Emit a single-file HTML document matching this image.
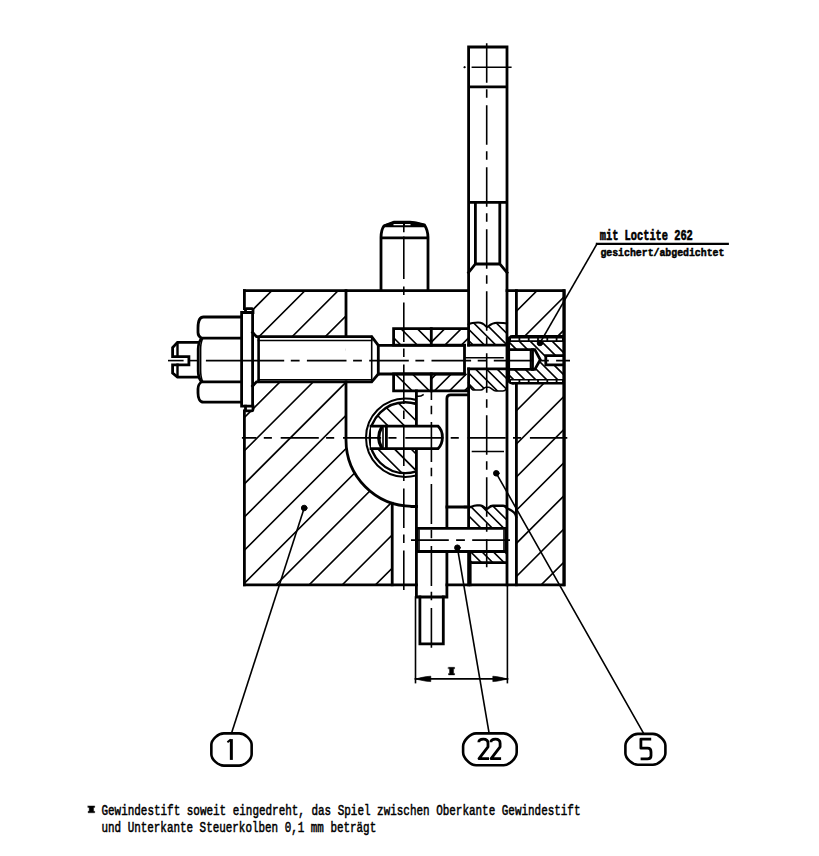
<!DOCTYPE html><html><head><meta charset="utf-8"><style>html,body{margin:0;padding:0;background:#fff;width:819px;height:856px;overflow:hidden}svg{display:block}</style></head><body><svg width="819" height="856" viewBox="0 0 819 856" stroke="#000" stroke-linecap="square"><defs><clipPath id="c1"><path d="M244.4,290.6H346V440A66.3,66.3 0 0 0 392.2,503.27V584.8H244.4ZM244.4,306H254V412H244.4ZM254,336.4H345.9V381.8H254Z" clip-rule="evenodd"/></clipPath><clipPath id="c2"><path d="M516.4,290.6H564.3V584.8H516.4ZM516.4,336.4H564.3V383.2H516.4Z" clip-rule="evenodd"/></clipPath><clipPath id="c3"><path d="M393.6,328.7H431.3V345.1H393.6Z" clip-rule="nonzero"/></clipPath><clipPath id="c4"><path d="M393.6,373.8H431.3V390.9H393.6Z" clip-rule="nonzero"/></clipPath><clipPath id="c5"><path d="M431.3,328.7H468.5V345.1H431.3Z" clip-rule="nonzero"/></clipPath><clipPath id="c6"><path d="M431.3,373.8H468.5V390.9H431.3Z" clip-rule="nonzero"/></clipPath><clipPath id="c7"><path d="M405.2,402.3A35.4,35.4 0 0 0 405.2,473.1L415,473.1V402.3ZM369,426.1H415V448.6H369Z" clip-rule="evenodd"/></clipPath><clipPath id="c8"><path d="M468.6,324.3C471,323 474,322.6 478,322.6C482,322.6 484,324 486,326.5L487.5,327C490,325 492,322.8 497,322.8C502,322.8 505,323 507,323.5V345.2H468.6Z" clip-rule="nonzero"/></clipPath><clipPath id="c9"><path d="M468.6,368.9H507V388.5C506,389.5 505,391 503,391H496C493,390.8 491,387.5 489,387.3H486C484,387.5 483,390 481,390H473C471,389 470,386 468.6,383Z" clip-rule="nonzero"/></clipPath><clipPath id="c10"><path d="M468.6,507H471C473,506 474,505.4 477,505.4H480C482,505.4 484,507 486,508.6H487.5C489,507.5 490,505.8 493,505.8H503C505,505.8 506.5,507 507,508.5V528.4H468.6ZM469.8,551.5H506V562.6H469.8Z" clip-rule="nonzero"/></clipPath><clipPath id="c11"><path d="M508.7,341.3H563.2V379.5H508.7ZM508.7,349.7H534.8L540.3,359.8L534.8,369.4H508.7ZM545.8,355.7H563.2V364.8H545.8Z" clip-rule="evenodd"/></clipPath></defs><path stroke-linecap="butt" clip-path="url(#c1)" d="M-93.80,590.00L211.20,285.00M-60.65,590.00L244.35,285.00M-27.50,590.00L277.50,285.00M5.65,590.00L310.65,285.00M38.80,590.00L343.80,285.00M71.95,590.00L376.95,285.00M105.10,590.00L410.10,285.00M138.25,590.00L443.25,285.00M171.40,590.00L476.40,285.00M204.55,590.00L509.55,285.00M237.70,590.00L542.70,285.00M270.85,590.00L575.85,285.00M304.00,590.00L609.00,285.00M337.15,590.00L642.15,285.00M370.30,590.00L675.30,285.00" stroke-width="1.6" fill="none"/><path stroke-linecap="butt" clip-path="url(#c2)" d="M171.40,590.00L476.40,285.00M204.55,590.00L509.55,285.00M237.70,590.00L542.70,285.00M270.85,590.00L575.85,285.00M304.00,590.00L609.00,285.00M337.15,590.00L642.15,285.00M370.30,590.00L675.30,285.00M403.45,590.00L708.45,285.00M436.60,590.00L741.60,285.00M469.75,590.00L774.75,285.00M502.90,590.00L807.90,285.00M536.05,590.00L841.05,285.00M569.20,590.00L874.20,285.00" stroke-width="1.6" fill="none"/><path stroke-linecap="butt" clip-path="url(#c3)" d="M364.40,325.00L387.40,348.00M380.80,325.00L403.80,348.00M397.20,325.00L420.20,348.00M413.60,325.00L436.60,348.00M430.00,325.00L453.00,348.00" stroke-width="1.6" fill="none"/><path stroke-linecap="butt" clip-path="url(#c4)" d="M356.90,370.00L381.90,395.00M374.10,370.00L399.10,395.00M391.30,370.00L416.30,395.00M408.50,370.00L433.50,395.00M425.70,370.00L450.70,395.00" stroke-width="1.6" fill="none"/><path stroke-linecap="butt" clip-path="url(#c5)" d="M392.50,348.00L415.50,325.00M409.00,348.00L432.00,325.00M425.50,348.00L448.50,325.00M442.00,348.00L465.00,325.00M458.50,348.00L481.50,325.00" stroke-width="1.6" fill="none"/><path stroke-linecap="butt" clip-path="url(#c6)" d="M400.30,395.00L425.30,370.00M415.30,395.00L440.30,370.00M430.30,395.00L455.30,370.00M445.30,395.00L470.30,370.00M460.30,395.00L485.30,370.00" stroke-width="1.6" fill="none"/><path stroke-linecap="butt" clip-path="url(#c7)" d="M277.10,398.00L355.10,476.00M293.70,398.00L371.70,476.00M310.30,398.00L388.30,476.00M326.90,398.00L404.90,476.00M343.50,398.00L421.50,476.00M360.10,398.00L438.10,476.00M376.70,398.00L454.70,476.00M393.30,398.00L471.30,476.00M409.90,398.00L487.90,476.00" stroke-width="1.6" fill="none"/><path stroke-linecap="butt" clip-path="url(#c8)" d="M436.80,320.00L463.80,347.00M448.10,320.00L475.10,347.00M459.40,320.00L486.40,347.00M470.70,320.00L497.70,347.00M482.00,320.00L509.00,347.00M493.30,320.00L520.30,347.00M504.60,320.00L531.60,347.00" stroke-width="1.6" fill="none"/><path stroke-linecap="butt" clip-path="url(#c9)" d="M430.30,367.00L456.30,393.00M441.10,367.00L467.10,393.00M451.90,367.00L477.90,393.00M462.70,367.00L488.70,393.00M473.50,367.00L499.50,393.00M484.30,367.00L510.30,393.00M495.10,367.00L521.10,393.00M505.90,367.00L531.90,393.00" stroke-width="1.6" fill="none"/><path stroke-linecap="butt" clip-path="url(#c10)" d="M396.10,500.00L462.10,566.00M407.45,500.00L473.45,566.00M418.80,500.00L484.80,566.00M430.15,500.00L496.15,566.00M441.50,500.00L507.50,566.00M452.85,500.00L518.85,566.00M464.20,500.00L530.20,566.00M475.55,500.00L541.55,566.00M486.90,500.00L552.90,566.00M498.25,500.00L564.25,566.00M509.60,500.00L575.60,566.00" stroke-width="1.6" fill="none"/><path stroke-linecap="butt" clip-path="url(#c11)" d="M448.00,336.00L496.00,384.00M459.00,336.00L507.00,384.00M470.00,336.00L518.00,384.00M481.00,336.00L529.00,384.00M492.00,336.00L540.00,384.00M503.00,336.00L551.00,384.00M514.00,336.00L562.00,384.00M525.00,336.00L573.00,384.00M536.00,336.00L584.00,384.00M547.00,336.00L595.00,384.00M558.00,336.00L606.00,384.00" stroke-width="1.6" fill="none"/><path d="M244.4,290.6H468.6M507,290.6H564.3V584.8H446.9M416.4,584.8H244.4" stroke-width="2.8" fill="none" /><line x1="244.40" y1="290.60" x2="244.40" y2="308.60" stroke-width="2.8" /><line x1="244.40" y1="410.80" x2="244.40" y2="584.80" stroke-width="2.8" /><path d="M346,290.6V336.4M346,381.8V440A66.3,66.3 0 0 0 412,506.3H416.4" stroke-width="2.8" fill="none" /><line x1="392.20" y1="503.27" x2="392.20" y2="584.80" stroke-width="2.8" /><line x1="516.40" y1="290.60" x2="516.40" y2="336.40" stroke-width="2.8" /><line x1="516.40" y1="383.20" x2="516.40" y2="584.80" stroke-width="2.8" /><path d="M468.6,47V345.2M468.6,368.9V584.8M507,47V584.8M468.6,47H507M468.6,86.8H507M468.6,202.4H507" stroke-width="2.8" fill="none" /><path d="M475.4,202.4V264H499.8V202.4M475.4,264L468.6,272.5M499.8,264L507,272.5" stroke-width="2.8" fill="none" /><line x1="472.40" y1="67.20" x2="510.80" y2="67.20" stroke-width="1.6" /><circle cx="464.4" cy="67.2" r="0.6"/><path d="M381,290.6V237.8C381,232 382,228.5 384,225.8L391.5,223L394,222.2H410L416,223L424.5,225C426.5,228 428,232 428,237.8V290.6M381,237.8H428" stroke-width="2.8" fill="none" /><path d="M383.5,227.2L384.2,224.6L391.5,222.3L394,221H410L416,222L425,224L425.8,227.2Z" stroke="none" fill="#000"/><path d="M393.5,224.6H403M405,224.6H410.5" stroke="#fff" stroke-width="1.3" stroke-linecap="butt" fill="none"/><path d="M198,342.3H177.5L172.6,347.6V356.6H188.9V364.8H172.6V373L177.5,377.1H198" stroke-width="2.8" fill="none" /><path d="M177.5,343.5V356.6M177.5,364.8V376" stroke-width="2.4" fill="none" /><path d="M241.6,317H203.5C199.8,317 198,322 198,328V332.5C198,335.5 199.5,337 201.5,338.2H241.6M201.5,338.2C199.2,341 198.2,345 198.2,349V371C198.2,375 199.2,379 201.5,381.8H241.6M201.5,381.8C199.5,383 198,385.5 198,389V393C198,398 199.8,402.2 203.5,402.2H241.6" stroke-width="2.8" fill="none" /><path d="M202.5,339C201,342 200.6,346 200.6,350V370C200.6,374 201,378 202.5,381" stroke-width="1.6" fill="none" /><path d="M241.6,312.5H252.6V406.2H241.6Z" stroke-width="2.8" fill="none" /><path d="M245.5,312.5V309.2Q245.5,308.6 246.5,308.6H252Q253,308.6 253,309.5V312.5M245.5,406.2V409.8Q245.5,410.8 246.5,410.8H252Q253,410.8 253,409.8V406.2" stroke-width="2.8" fill="none" /><path d="M252.6,332.5L256.5,336.6H371.7L378.3,345.4H464.5V374H378.3L371.7,381.8H256.5L252.6,386" stroke-width="2.8" fill="none" /><path d="M258.4,340.5H371.7M258.4,379.8H371.7" stroke-width="1.6" fill="none" /><line x1="258.60" y1="337.50" x2="258.60" y2="381.00" stroke-width="2.6" /><line x1="371.70" y1="336.40" x2="371.70" y2="381.80" stroke-width="1.6" /><line x1="378.30" y1="345.40" x2="378.30" y2="374.00" stroke-width="2.8" /><line x1="168.80" y1="360.60" x2="182.80" y2="360.60" stroke-width="1.6" /><line x1="189.50" y1="360.60" x2="198.00" y2="360.60" stroke-width="1.6" /><path d="M393.6,328.7H468.6M393.6,328.7V345.1M393.6,373.8V390.9H468.6M393.6,345.1H464.5M393.6,373.8H464.5" stroke-width="2.8" fill="none" /><path d="M431.3,328.7V345.1M431.3,373.8V390.9" stroke-width="2.8" fill="none" /><path d="M468.6,324.3C471,323 474,322.6 478,322.6C482,322.6 484,324 486,326.5L487.5,327C490,325 492,322.8 497,322.8C502,322.8 505,323 507,323.5" stroke-width="2.0" fill="none" /><path d="M468.6,383C470,386 471,389 473,390H481C483,390 484,387.5 486,387.3H489C491,387.5 493,390.8 496,391H503C505,391 506,389.5 507,388.5" stroke-width="1.6" fill="none" /><path d="M468.6,345.2H507M468.6,368.9H507" stroke-width="2.8" fill="none" /><line x1="466.00" y1="357.80" x2="503.00" y2="357.80" stroke-width="1.6" /><path d="M513,336.4H563.2M508.7,341V379M513,383.2H563.2" stroke-width="2.8" fill="none" /><path d="M508.7,341Q508.7,336.4 513,336.4M508.7,379Q508.7,383.2 513,383.2" stroke-width="2.8" fill="none" /><rect x="510" y="335.4" width="53.5" height="6.6" stroke="none" fill="#000"/><rect x="510" y="379" width="53.5" height="5" stroke="none" fill="#000"/><line x1="511.00" y1="339.30" x2="562.00" y2="339.30" stroke-width="1.7" stroke="#fff" stroke-linecap="butt" stroke-dasharray="7.5,1.8"/><line x1="511.00" y1="381.30" x2="562.00" y2="381.30" stroke-width="1.5" stroke="#fff" stroke-linecap="butt" stroke-dasharray="7.5,1.8"/><path d="M508.7,349.7H534.8L540.3,359.8L534.8,369.4H508.7" stroke-width="2.8" fill="none" /><line x1="532.50" y1="349.70" x2="532.50" y2="369.40" stroke-width="2.8" /><line x1="530.50" y1="350.00" x2="530.50" y2="369.00" stroke-width="1.6" /><path d="M545.8,355.7H563.2M545.8,355.7V364.8H563.2" stroke-width="2.8" fill="none" /><line x1="563.80" y1="290.60" x2="563.80" y2="584.80" stroke-width="2.8" /><path d="M417.5,396.2Q420.5,396.6 423,394.8" stroke-width="1.6" fill="none" /><path d="M416.4,390.9V597H446.9V398.6Q446.9,394.9 450.6,394.9H468.6" stroke-width="2.8" fill="none" /><path d="M419.9,597V643.8H443.3V597" stroke-width="2.8" fill="none" /><clipPath id="cc"><rect x="300" y="380" width="115.5" height="110"/></clipPath><g clip-path="url(#cc)"><circle cx="405.2" cy="437.7" r="35.4" fill="none" stroke-width="2.4"/><circle cx="405.2" cy="437.7" r="39.2" fill="none" stroke-width="2.0"/></g><path d="M371,426.1H438Q442.4,430 442.4,437.3Q442.4,444.6 438,448.6H371" stroke-width="2.8" fill="#fff" /><path d="M381.5,427.5Q376,437.5 381.5,447.5" stroke-width="3.2" fill="none" /><line x1="386.40" y1="426.10" x2="386.40" y2="448.60" stroke-width="2.8" /><line x1="383.00" y1="428.00" x2="383.00" y2="447.00" stroke-width="1.6" /><path d="M412,506.7H416.4M446.9,507H466" stroke-width="2.8" fill="none" /><path d="M465,507H471C473,506 474,505.4 477,505.4H480C482,505.4 484,507 486,508.6H487.5C489,507.5 490,505.8 493,505.8H503C505,505.8 506.5,507 507.5,508.6C510,509.5 512,510.5 514,512.5C515.5,514 516,515 516.2,517" stroke-width="2.4" fill="none" /><path d="M416.8,528.4H506.2V551.5H416.8Z" stroke-width="2.8" fill="#fff" /><line x1="419.00" y1="530.00" x2="419.00" y2="550.00" stroke-width="1.6" /><line x1="504.00" y1="530.00" x2="504.00" y2="550.00" stroke-width="1.6" /><path d="M469.8,551.5V560C469.8,562 470.5,562.6 472.5,562.6H506" stroke-width="2.8" fill="none" /><line x1="470.20" y1="562.60" x2="470.20" y2="584.80" stroke-width="2.8" /><line x1="472.50" y1="451.50" x2="503.20" y2="451.50" stroke-width="1.6" /><line x1="415.50" y1="597.00" x2="415.50" y2="682.60" stroke-width="1.6" /><line x1="507.40" y1="584.80" x2="507.40" y2="682.60" stroke-width="1.6" /><line x1="415.50" y1="678.90" x2="507.40" y2="678.90" stroke-width="1.9" /><path d="M416,678.9L421,677.6L426.5,676.6L430.8,676.2V681.6L426.5,681.3L421,680.2Z" stroke-width="0.6" fill="#000" /><path d="M507,678.9L502,677.6L496.5,676.6L492.8,676.2V681.6L496.5,681.3L502,680.2Z" stroke-width="0.6" fill="#000" /><line x1="304.20" y1="508.00" x2="231.50" y2="733.30" stroke-width="1.6" /><circle cx="304.2" cy="508" r="2.8"/><line x1="457.40" y1="547.70" x2="489.00" y2="732.70" stroke-width="1.6" /><circle cx="457.4" cy="547.7" r="2.8"/><line x1="496.30" y1="473.30" x2="643.20" y2="732.70" stroke-width="1.6" /><circle cx="496.3" cy="473.3" r="2.8"/><line x1="540.00" y1="343.00" x2="597.00" y2="243.90" stroke-width="1.6" /><circle cx="540" cy="343" r="2.8"/><line x1="597.00" y1="243.90" x2="727.70" y2="243.90" stroke-width="2.4" /><path d="M223.85,733.35H239.15C244.775,733.35 251.65,739.6750000000001 251.65,744.85V754.15C251.65,759.3249999999999 244.775,765.65 239.15,765.65H223.85C218.225,765.65 211.35,759.3249999999999 211.35,754.15V744.85C211.35,739.6750000000001 218.225,733.35 223.85,733.35Z" stroke-width="2.6" fill="none" /><path d="M476.1,733.4H503.70000000000005C509.55000000000007,733.4 516.7,740.55 516.7,746.4V752.2C516.7,758.0500000000001 509.55000000000007,765.2 503.70000000000005,765.2H476.1C470.25,765.2 463.1,758.0500000000001 463.1,752.2V746.4C463.1,740.55 470.25,733.4 476.1,733.4Z" stroke-width="2.6" fill="none" /><path d="M637.9,733.9H652.9C658.525,733.9 665.4,740.225 665.4,745.4V753.2C665.4,758.375 658.525,764.7 652.9,764.7H637.9C632.275,764.7 625.4,758.375 625.4,753.2V745.4C625.4,740.225 632.275,733.9 637.9,733.9Z" stroke-width="2.6" fill="none" /><line stroke-linecap="butt" x1="486.70" y1="43.20" x2="486.70" y2="567.30" stroke-width="1.6" stroke-dasharray="39.5,6.5,8.6,7.4"/><line stroke-linecap="butt" x1="403.80" y1="226.00" x2="403.80" y2="232.30" stroke-width="1.6" /><line stroke-linecap="butt" x1="403.80" y1="236.50" x2="403.80" y2="279.00" stroke-width="1.6" /><line stroke-linecap="butt" x1="403.80" y1="286.40" x2="403.80" y2="589.90" stroke-width="1.6" stroke-dasharray="39.5,6.5,8.6,7.4" stroke-dashoffset="46"/><line stroke-linecap="butt" x1="205.90" y1="360.60" x2="284.20" y2="360.60" stroke-width="1.6" /><line stroke-linecap="butt" x1="290.80" y1="360.60" x2="570.00" y2="360.60" stroke-width="1.6" stroke-dasharray="8.8,7.3,39.6,6.6"/><line stroke-linecap="butt" x1="431.40" y1="390.90" x2="431.40" y2="647.80" stroke-width="1.6" stroke-dasharray="40,5.8,8.6,7.6" stroke-dashoffset="31"/><line stroke-linecap="butt" x1="411.00" y1="540.10" x2="510.60" y2="540.10" stroke-width="1.6" stroke-dasharray="37.8,7.3,8.8,7.3"/><line stroke-linecap="butt" x1="241.90" y1="437.90" x2="567.30" y2="437.90" stroke-width="1.6" stroke-dasharray="38.1,7.3,8.1,8.8" stroke-dashoffset="23.5"/><g fill="none" stroke="#000" stroke-width="2.8" stroke-linejoin="round" stroke-linecap="butt"><path d="M231.35,739.1V759.9" stroke-width="3" stroke-linejoin="miter"/><path d="M227.4,742.2L230.8,739.6" stroke-width="2"/><path d="M478.8,742.3C478.8,739.6 480.5,739.1 483.3,739.1C486.6,739.1 488,740.4 488,743.2V746.8L479,758.6H489"/><path d="M490.9,742.3C490.9,739.6 492.6,739.1 495.4,739.1C498.7,739.1 500.1,740.4 500.1,743.2V746.8L491.1,758.6H501.1"/><path d="M651.2,739.1H640.9V748.2H647.6C650,748.2 651,749.4 651,752V755.8C651,758.2 649.8,758.9 647.4,758.9H640.6"/></g><g stroke="#000" stroke-width="0.45" fill="#000" font-family="Liberation Mono" font-weight="bold"><text transform="translate(599.8,239.6) scale(1,1.37)" font-size="10.3" textLength="93" lengthAdjust="spacingAndGlyphs">mit Loctite 262</text><text transform="translate(600.4,255.7) scale(1,1.2)" font-size="9.8" textLength="124" lengthAdjust="spacingAndGlyphs">gesichert/abgedichtet</text></g><g fill="#000" stroke="#000" stroke-width="0.4" font-family="Liberation Mono"><text transform="translate(101.5,814.5) scale(1,1.32)" font-size="10.9" textLength="479" lengthAdjust="spacingAndGlyphs">Gewindestift soweit eingedreht, das Spiel zwischen Oberkante Gewindestift</text><text transform="translate(101.5,831.6) scale(1,1.32)" font-size="10.9" textLength="274.7" lengthAdjust="spacingAndGlyphs">und Unterkante Steuerkolben 0,1 mm beträgt</text><path d="M88.1,805.9H94.7V807.4H93.6V811.3H94.7V812.8H88.1V811.3H89.2V807.4H88.1Z"/><path d="M448.5,667.3H454.6V668.8H453.6V673.4H454.6V674.9H448.5V673.4H449.5V668.8H448.5Z"/></g></svg></body></html>
